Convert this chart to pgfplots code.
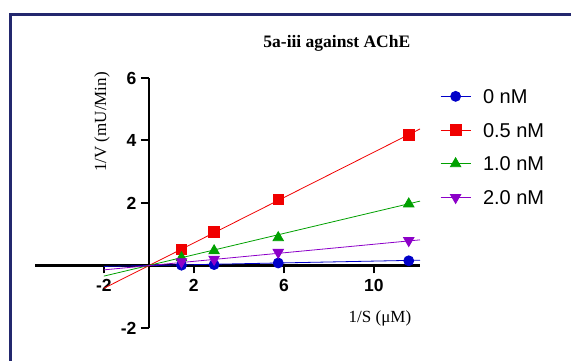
\documentclass[border=0pt]{standalone}
\usepackage{pgfplots}
\pgfplotsset{compat=1.18}
\usepackage{fontspec}
\setmainfont{Liberation Serif}
\newfontfamily\arial{Liberation Sans}
\definecolor{cblue}{RGB}{0,0,200}
\definecolor{cred}{RGB}{240,0,0}
\definecolor{cgreen}{RGB}{0,160,0}
\definecolor{cpurple}{RGB}{140,0,200}
\definecolor{frame}{RGB}{35,40,110}
\begin{document}
\begin{tikzpicture}[x=1pt,y=1pt]
\begin{axis}[
  at={(35pt,33pt)}, anchor=south west,
  scale only axis, width=385pt, height=250pt,
  xmin=-5.06, xmax=12.05, ymin=-2, ymax=6,
  axis lines=middle,
  axis line style={-, line width=2.4pt, black},
  clip=false,
  xtick={-2,2,6,10}, xticklabels={{-2},{2},{6},{10}},
  ytick={-2,2,4,6}, yticklabels={{-2},{2},{4},{6}},
  x tick style={line width=2pt, black},
  y tick style={line width=2pt, black},
  xtick align=outside, ytick align=outside,
  major tick length=8pt,
  tick label style={font=\arial\bfseries\fontsize{17.5}{17.5}\selectfont},
  every x tick label/.append style={yshift=-2pt},
  every y tick label/.append style={xshift=-1pt},
  every axis x label/.style={at={(rel axis cs:0.896,0.04)}, anchor=center, font=\fontsize{17}{17}\selectfont},
  every axis y label/.style={at={(rel axis cs:0.174,0.824)}, anchor=center, rotate=90, font=\fontsize{17}{17}\selectfont},
  xlabel={1/S (μM)},
  ylabel={1/V (mU/Min)},
  title={5a-iii against AChE},
  every axis title/.style={at={(rel axis cs:0.784,1.14)}, anchor=center, font=\bfseries\fontsize{17.5}{17.5}\selectfont},
  legend cell align=left,
  legend image code/.code={\draw[#1, sharp plot, mark repeat=2, mark phase=2] plot coordinates {(0pt,0pt) (15pt,0pt) (30pt,0pt)};},
  legend style={draw=none, fill=none, at={(rel axis cs:1.052,0.956)}, anchor=north west,
    font=\arial\fontsize{20}{20}\selectfont, inner sep=0pt, row sep=19.4pt, column sep=0pt,
    nodes={inner sep=0pt, text height=14.3pt, text depth=0pt, anchor=west},
    /tikz/every odd column/.append style={column sep=12pt}},
]
\addplot[cblue, line width=0.8pt, forget plot] coordinates {(-2,-0.03) (12.05,0.17)};
\addplot[cred, line width=0.8pt, forget plot] coordinates {(-2,-0.73) (12.05,4.37)};
\addplot[cgreen, line width=0.8pt, forget plot] coordinates {(-2,-0.34) (12.05,2.06)};
\addplot[cpurple, line width=0.8pt, forget plot] coordinates {(-2,-0.14) (12.05,0.82)};
\addplot[cblue, line width=0.8pt, only marks, mark=*, mark size=5pt, mark options={solid, fill=cblue}] coordinates {(1.45,0.01) (2.9,0.03) (5.75,0.08) (11.55,0.15)};
\addlegendentry{0 nM}
\addplot[cred, line width=0.8pt, only marks, mark=square*, mark size=5.3pt, mark options={solid, fill=cred}] coordinates {(1.45,0.52) (2.9,1.07) (5.75,2.11) (11.55,4.18)};
\addlegendentry{0.5 nM}
\addplot[cgreen, line width=0.8pt, only marks, mark=triangle*, mark size=6pt, mark options={solid, fill=cgreen}] coordinates {(1.45,0.25) (2.9,0.47) (5.75,0.89) (11.55,1.97)};
\addlegendentry{1.0 nM}
\addplot[cpurple, line width=0.8pt, only marks, mark=triangle*, mark size=6pt, mark options={solid, fill=cpurple, rotate=180}] coordinates {(1.45,0.12) (2.9,0.2) (5.75,0.42) (11.55,0.8)};
\addlegendentry{2.0 nM}
\end{axis}
\draw[frame, line width=2.5pt] (10.5,-20) -- (10.5,346.5) -- (600,346.5);
\pgfresetboundingbox
\path[use as bounding box] (0,0) rectangle (571,361);
\end{tikzpicture}
\end{document}
